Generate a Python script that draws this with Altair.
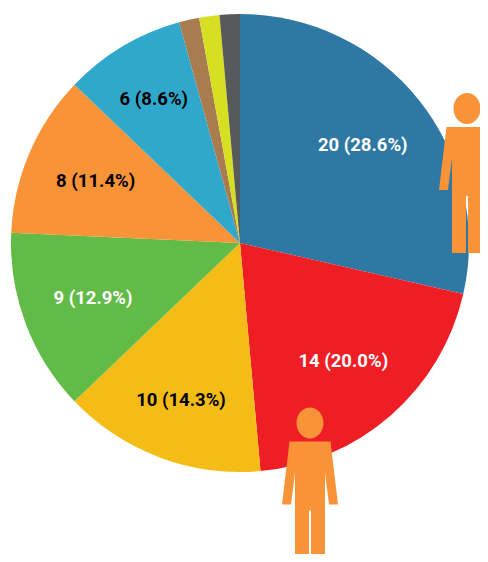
import altair as alt
import pandas as pd

values = [20, 14, 10, 9, 8, 6, 1, 1, 1]
labels = ["20 (28.6%)", "14 (20.0%)", "10 (14.3%)", "9 (12.9%)", "8 (11.4%)", "6 (8.6%)", "", "", ""]
colors = ["#2E78A3", "#EF1E25", "#F5BC18", "#62BB46", "#F99338", "#30A8CB", "#A97C50", "#D7DF23", "#58595B"]
label_colors = ["#FFFFFF", "#FFFFFF", "#000000", "#FFFFFF", "#000000", "#000000", "#000000", "#000000", "#000000"]
slices = list(range(9))

CX, CY, R = 232, 235, 229

df = pd.DataFrame({"slice": slices, "value": values, "label": labels, "lc": label_colors})

theta = alt.Theta("value:Q", stack=True, scale=alt.Scale(domain=[0, sum(values)], range=[0, 6.28318530718]))
order = alt.Order("slice:O", sort="ascending")

pie = alt.Chart(df).mark_arc(strokeWidth=0).encode(
    theta=theta,
    order=order,
    color=alt.Color("slice:O", scale=alt.Scale(domain=slices, range=colors), legend=None),
    x=alt.value(CX),
    y=alt.value(CY),
    radius=alt.value(R),
)


def label_layer(test, r):
    return alt.Chart(df).transform_calculate(shown=f"{test} ? datum.label : ''").mark_text(
        font="Roboto", fontSize=18.5, fontWeight="bold", align="center", baseline="middle"
    ).encode(
        theta=theta,
        order=order,
        text="shown:N",
        color=alt.Color("lc:N", scale=None),
        x=alt.value(CX),
        y=alt.value(CY),
        radius=alt.value(r),
    )


text_near = label_layer("datum.slice != 2 && datum.slice != 5", 157)
text_far = label_layer("datum.slice == 2 || datum.slice == 5", 168)


def person_path():
    off = 80
    pts = [(-20.5, 34), (20.5, 34), (28, 97), (19, 97), (15, 65), (15, 160), (1, 160), (1, 103),
           (-1, 103), (-1, 160), (-15, 160), (-15, 65), (-19, 97), (-28, 97)]
    s = "M" + " L".join(f"{x/100:.3f},{(y-off)/100:.3f}" for x, y in pts) + " Z"
    rx, ry, cy = 13.5, 15.5, 15.5
    s += (f" M{-rx/100:.3f},{(cy-off)/100:.3f}"
          f" A{rx/100:.3f},{ry/100:.3f} 0 1,1 {rx/100:.3f},{(cy-off)/100:.3f}"
          f" A{rx/100:.3f},{ry/100:.3f} 0 1,1 {-rx/100:.3f},{(cy-off)/100:.3f} Z")
    return s


people = [("right", 459, 165), ("bottom", 302, 479.5)]


def person(px, py):
    return alt.Chart(pd.DataFrame({"p": [1]})).mark_point(
        shape=person_path(), size=40000, filled=True, fill="#F99338", stroke=None, opacity=1
    ).encode(x=alt.value(px), y=alt.value(py))


layers = [pie, text_near, text_far] + [person(px, py) for _, px, py in people]

chart = alt.layer(*layers).properties(
    width=472, height=546, padding=0, autosize=alt.AutoSizeParams(type="none"),
).configure_view(stroke=None)

chart.save("out.html", embed_options={"renderer": "svg", "actions": False})
